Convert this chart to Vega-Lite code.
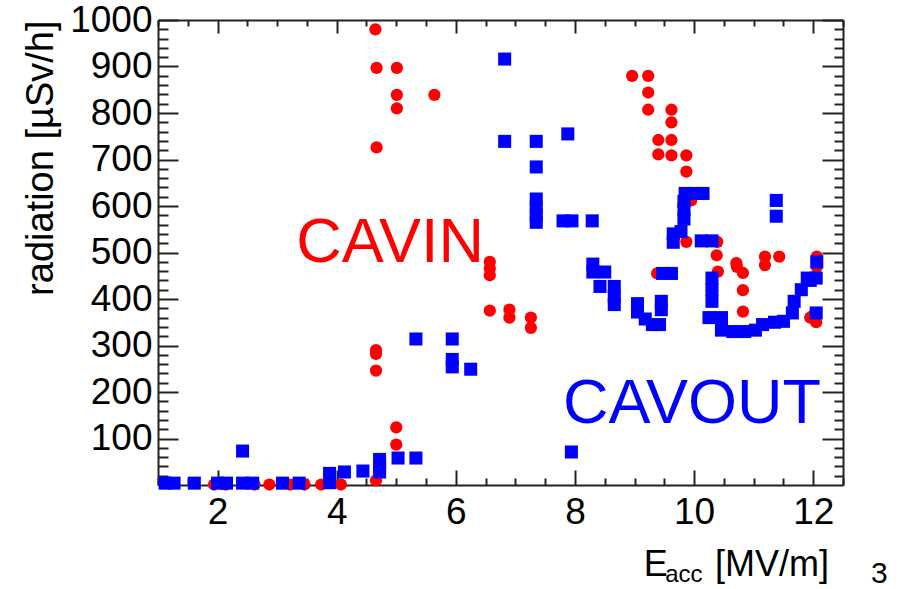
{
  "$schema": "https://vega.github.io/schema/vega-lite/v6.json",
  "width": 685,
  "height": 465,
  "autosize": {"type": "none"},
  "padding": {"left": 158, "top": 20, "right": 58, "bottom": 104},
  "background": "white",
  "config": {
    "view": {"stroke": null},
    "font": "Liberation Sans",
    "axis": {"grid": false, "tickColor": "#222", "tickWidth": 2, "domainColor": "#222", "domainWidth": 2, "labelColor": "#000", "labelFont": "Liberation Sans", "titleFont": "Liberation Sans", "titleColor": "#000", "titleFontWeight": "normal"}
  },
  "datasets": {
    "cavin": [
      {"E": 1.94, "rad": 1}, {"E": 2.14, "rad": 1}, {"E": 2.62, "rad": 1}, {"E": 2.87, "rad": 1},
      {"E": 3.22, "rad": 1}, {"E": 3.46, "rad": 1}, {"E": 3.74, "rad": 1}, {"E": 4.07, "rad": 1},
      {"E": 4.66, "rad": 10}, {"E": 5.0, "rad": 87}, {"E": 5.0, "rad": 124},
      {"E": 4.66, "rad": 290}, {"E": 4.66, "rad": 282}, {"E": 4.66, "rad": 246},
      {"E": 4.65, "rad": 980}, {"E": 4.67, "rad": 897}, {"E": 5.01, "rad": 897}, {"E": 5.01, "rad": 839},
      {"E": 5.01, "rad": 810}, {"E": 5.64, "rad": 839}, {"E": 4.67, "rad": 726},
      {"E": 6.57, "rad": 480}, {"E": 6.57, "rad": 466}, {"E": 6.57, "rad": 451}, {"E": 6.57, "rad": 375},
      {"E": 6.90, "rad": 377}, {"E": 6.90, "rad": 360}, {"E": 7.26, "rad": 360}, {"E": 7.26, "rad": 338},
      {"E": 8.96, "rad": 880}, {"E": 9.23, "rad": 880}, {"E": 9.23, "rad": 844}, {"E": 9.23, "rad": 807},
      {"E": 9.62, "rad": 807}, {"E": 9.62, "rad": 780}, {"E": 9.40, "rad": 742}, {"E": 9.62, "rad": 742},
      {"E": 9.40, "rad": 711}, {"E": 9.62, "rad": 709}, {"E": 9.87, "rad": 709}, {"E": 9.87, "rad": 674},
      {"E": 9.95, "rad": 612}, {"E": 9.87, "rad": 523}, {"E": 9.38, "rad": 455},
      {"E": 10.39, "rad": 523}, {"E": 10.38, "rad": 494}, {"E": 10.4, "rad": 459}, {"E": 10.71, "rad": 477},
      {"E": 10.72, "rad": 469}, {"E": 10.82, "rad": 456}, {"E": 10.82, "rad": 419}, {"E": 10.82, "rad": 373},
      {"E": 11.19, "rad": 491}, {"E": 11.19, "rad": 473}, {"E": 11.43, "rad": 491}, {"E": 12.06, "rad": 491},
      {"E": 12.06, "rad": 469}, {"E": 11.95, "rad": 360}, {"E": 12.05, "rad": 350}, {"E": 12.0, "rad": 365}
    ],
    "cavout": [
      {"E": 1.12, "rad": 4}, {"E": 1.27, "rad": 4}, {"E": 1.61, "rad": 4}, {"E": 2.0, "rad": 4},
      {"E": 2.15, "rad": 4}, {"E": 2.42, "rad": 4}, {"E": 2.42, "rad": 73}, {"E": 2.59, "rad": 4},
      {"E": 3.09, "rad": 4}, {"E": 3.37, "rad": 4}, {"E": 3.88, "rad": 25}, {"E": 3.88, "rad": 5},
      {"E": 4.13, "rad": 28}, {"E": 4.44, "rad": 30}, {"E": 4.72, "rad": 55}, {"E": 4.72, "rad": 40},
      {"E": 4.72, "rad": 28}, {"E": 5.03, "rad": 58}, {"E": 5.33, "rad": 58},
      {"E": 5.33, "rad": 314}, {"E": 5.94, "rad": 314}, {"E": 5.94, "rad": 270}, {"E": 5.94, "rad": 254},
      {"E": 6.25, "rad": 249},
      {"E": 6.82, "rad": 916}, {"E": 6.82, "rad": 739}, {"E": 7.35, "rad": 739}, {"E": 7.35, "rad": 684},
      {"E": 7.88, "rad": 755},
      {"E": 7.35, "rad": 615}, {"E": 7.35, "rad": 597}, {"E": 7.35, "rad": 580}, {"E": 7.35, "rad": 565},
      {"E": 7.80, "rad": 568}, {"E": 7.95, "rad": 568}, {"E": 8.29, "rad": 568},
      {"E": 7.94, "rad": 71},
      {"E": 8.30, "rad": 475}, {"E": 8.30, "rad": 458}, {"E": 8.50, "rad": 458}, {"E": 8.42, "rad": 427},
      {"E": 8.66, "rad": 427}, {"E": 8.66, "rad": 405}, {"E": 8.66, "rad": 388},
      {"E": 9.05, "rad": 390}, {"E": 9.05, "rad": 372}, {"E": 9.18, "rad": 357}, {"E": 9.3, "rad": 345},
      {"E": 9.42, "rad": 345}, {"E": 9.45, "rad": 395}, {"E": 9.45, "rad": 377},
      {"E": 9.47, "rad": 455}, {"E": 9.62, "rad": 455},
      {"E": 9.85, "rad": 627}, {"E": 10.0, "rad": 627}, {"E": 10.15, "rad": 627}, {"E": 9.83, "rad": 610},
      {"E": 9.83, "rad": 592}, {"E": 9.83, "rad": 572}, {"E": 9.65, "rad": 540}, {"E": 9.65, "rad": 522},
      {"E": 9.78, "rad": 545},
      {"E": 10.12, "rad": 525}, {"E": 10.3, "rad": 525},
      {"E": 10.3, "rad": 445}, {"E": 10.3, "rad": 420}, {"E": 10.3, "rad": 395},
      {"E": 10.25, "rad": 360}, {"E": 10.46, "rad": 360}, {"E": 10.46, "rad": 333}, {"E": 10.65, "rad": 330},
      {"E": 10.85, "rad": 330}, {"E": 11.03, "rad": 333}, {"E": 11.15, "rad": 345},
      {"E": 11.35, "rad": 350}, {"E": 11.5, "rad": 352}, {"E": 11.65, "rad": 370}, {"E": 11.68, "rad": 395},
      {"E": 11.8, "rad": 420}, {"E": 11.95, "rad": 440}, {"E": 11.9, "rad": 445}, {"E": 12.05, "rad": 445},
      {"E": 12.06, "rad": 480}, {"E": 12.05, "rad": 370}, {"E": 11.38, "rad": 612}, {"E": 11.38, "rad": 578}
    ],
    "annot": [
      {"series": "CAVIN", "E": 3.32, "rad": 479},
      {"series": "CAVOUT", "E": 7.80, "rad": 134}
    ],
    "xtitle": [
      {"label": "E", "E": 9.155, "rad": -195},
      {"label": "[MV/m]", "E": 10.35, "rad": -195}
    ],
    "xsub": [
      {"label": "acc", "E": 9.516, "rad": -208}
    ],
    "page": [
      {"label": "3", "E": 12.97, "rad": -210}
    ]
  },
  "resolve": {"axis": {"x": "independent", "y": "independent"}},
  "layer": [
    {
      "data": {"name": "cavin"},
      "mark": {"type": "circle", "size": 150, "opacity": 1, "color": "#ff0000"},
      "encoding": {
        "x": {"field": "E", "type": "quantitative", "scale": {"domain": [1, 12.5], "nice": false, "zero": false},
          "axis": {"orient": "bottom", "values": [2, 4, 6, 8, 10, 12], "tickSize": -15, "labelPadding": 24, "labelFontSize": 37, "title": null, "domain": true, "labelFlush": false}},
        "y": {"field": "rad", "type": "quantitative", "scale": {"domain": [0, 1000], "nice": false, "zero": false},
          "axis": {"orient": "left", "values": [100, 200, 300, 400, 500, 600, 700, 800, 900, 1000], "format": "d", "tickSize": -20, "labelPadding": 26, "labelFontSize": 37, "labelFlush": false,
            "title": "radiation [µSv/h]", "titleFontSize": 38, "titleAnchor": "end", "titlePadding": 9, "domain": true}}
      }
    },
    {
      "data": {"name": "cavout"},
      "mark": {"type": "square", "size": 170, "opacity": 1, "color": "#0000ff"},
      "encoding": {
        "x": {"field": "E", "type": "quantitative", "scale": {"domain": [1, 12.5], "nice": false, "zero": false},
          "axis": {"orient": "bottom", "values": [1, 1.5, 2.5, 3, 3.5, 4.5, 5, 5.5, 6.5, 7, 7.5, 8.5, 9, 9.5, 10.5, 11, 11.5, 12.5], "tickSize": -7, "labels": false, "domain": false, "title": null}},
        "y": {"field": "rad", "type": "quantitative", "scale": {"domain": [0, 1000], "nice": false, "zero": false},
          "axis": {"orient": "left", "values": [20, 40, 60, 80, 120, 140, 160, 180, 220, 240, 260, 280, 320, 340, 360, 380, 420, 440, 460, 480, 520, 540, 560, 580, 620, 640, 660, 680, 720, 740, 760, 780, 820, 840, 860, 880, 920, 940, 960, 980], "tickSize": -10, "labels": false, "domain": false, "title": null}}
      }
    },
    {
      "data": {"name": "annot"},
      "mark": {"type": "text", "align": "left", "baseline": "alphabetic", "fontSize": 63, "font": "Liberation Sans"},
      "encoding": {
        "x": {"field": "E", "type": "quantitative", "scale": {"domain": [1, 12.5], "nice": false, "zero": false},
          "axis": {"orient": "top", "values": [2, 4, 6, 8, 10, 12], "tickSize": -13, "labels": false, "domain": true, "title": null}},
        "y": {"field": "rad", "type": "quantitative", "scale": {"domain": [0, 1000], "nice": false, "zero": false},
          "axis": {"orient": "right", "values": [100, 200, 300, 400, 500, 600, 700, 800, 900, 1000], "tickSize": -21, "labels": false, "domain": true, "title": null}},
        "text": {"field": "series"},
        "color": {"field": "series", "type": "nominal", "scale": {"domain": ["CAVIN", "CAVOUT"], "range": ["#ff0000", "#0000ff"]}, "legend": null}
      }
    },
    {
      "data": {"name": "xtitle"},
      "mark": {"type": "text", "align": "left", "baseline": "alphabetic", "fontSize": 36, "font": "Liberation Sans", "color": "#000"},
      "encoding": {
        "x": {"field": "E", "type": "quantitative", "scale": {"domain": [1, 12.5], "nice": false, "zero": false},
          "axis": {"orient": "top", "values": [1, 1.5, 2.5, 3, 3.5, 4.5, 5, 5.5, 6.5, 7, 7.5, 8.5, 9, 9.5, 10.5, 11, 11.5, 12.5], "tickSize": -6, "labels": false, "domain": false, "title": null}},
        "y": {"field": "rad", "type": "quantitative", "scale": {"domain": [0, 1000], "nice": false, "zero": false},
          "axis": {"orient": "right", "values": [20, 40, 60, 80, 120, 140, 160, 180, 220, 240, 260, 280, 320, 340, 360, 380, 420, 440, 460, 480, 520, 540, 560, 580, 620, 640, 660, 680, 720, 740, 760, 780, 820, 840, 860, 880, 920, 940, 960, 980], "tickSize": -9, "labels": false, "domain": false, "title": null}},
        "text": {"field": "label"}
      }
    },
    {
      "data": {"name": "xsub"},
      "mark": {"type": "text", "align": "left", "baseline": "alphabetic", "fontSize": 24, "font": "Liberation Sans", "color": "#000"},
      "encoding": {
        "x": {"field": "E", "type": "quantitative", "scale": {"domain": [1, 12.5], "nice": false, "zero": false}, "axis": null},
        "y": {"field": "rad", "type": "quantitative", "scale": {"domain": [0, 1000], "nice": false, "zero": false}, "axis": null},
        "text": {"field": "label"}
      }
    },
    {
      "data": {"name": "page"},
      "mark": {"type": "text", "align": "left", "baseline": "alphabetic", "fontSize": 30, "font": "Liberation Sans", "color": "#000"},
      "encoding": {
        "x": {"field": "E", "type": "quantitative", "scale": {"domain": [1, 12.5], "nice": false, "zero": false}, "axis": null},
        "y": {"field": "rad", "type": "quantitative", "scale": {"domain": [0, 1000], "nice": false, "zero": false}, "axis": null},
        "text": {"field": "label"}
      }
    }
  ]
}
